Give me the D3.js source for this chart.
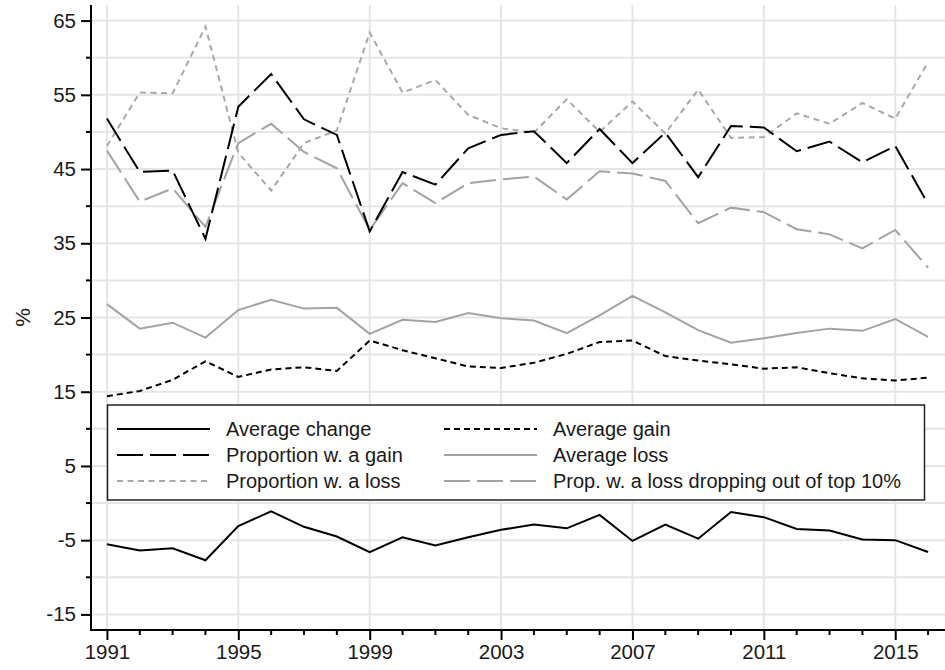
<!DOCTYPE html>
<html>
<head>
<meta charset="utf-8">
<script src="https://cdn.jsdelivr.net/npm/d3@7"></script>
<style>
  body { margin: 0; background: #fff; }
  svg { display: block; font-family: "Liberation Sans", Arial, sans-serif; }
</style>
</head>
<body>
<svg id="chart" width="945" height="670"></svg>
<script>
const years = d3.range(1991, 2017);
const xTickLabels = ["1991", "1995", "1999", "2003", "2007", "2011", "2015"];
const yTickLabels = ["-15", "-5", "5", "15", "25", "35", "45", "55", "65"];

const averageChange = [-5.55, -6.4, -6.1, -7.7, -3.1, -1.1, -3.2, -4.5, -6.6, -4.6, -5.7, -4.6, -3.6, -2.9, -3.4, -1.6, -5.1, -2.9, -4.8, -1.2, -1.9, -3.5, -3.7, -4.9, -5.0, -6.6];
const averageGain = [14.4, 15.1, 16.6, 19.1, 17.0, 18.0, 18.3, 17.8, 21.9, 20.6, 19.5, 18.4, 18.2, 18.9, 20.1, 21.7, 21.9, 19.8, 19.2, 18.7, 18.1, 18.3, 17.5, 16.8, 16.5, 16.9];
const propGain = [51.8, 44.6, 44.8, 35.6, 53.4, 57.8, 51.7, 49.6, 36.6, 44.6, 42.9, 47.8, 49.6, 50.1, 45.8, 50.4, 45.8, 49.9, 43.9, 50.8, 50.6, 47.4, 48.7, 45.9, 48.1, 40.3];
const averageLoss = [26.8, 23.5, 24.3, 22.3, 26.0, 27.4, 26.2, 26.3, 22.8, 24.7, 24.4, 25.6, 24.9, 24.6, 22.9, 25.3, 27.9, 25.7, 23.3, 21.6, 22.2, 22.9, 23.5, 23.2, 24.8, 22.4];
const propLoss = [48.1, 55.3, 55.2, 64.2, 47.2, 42.1, 48.5, 50.2, 63.4, 55.3, 57.0, 52.3, 50.5, 49.9, 54.4, 50.0, 54.1, 49.8, 55.7, 49.2, 49.3, 52.5, 51.1, 53.9, 51.8, 59.4];
const propLossTop10 = [47.5, 40.6, 42.4, 37.2, 48.5, 51.1, 47.3, 45.1, 36.8, 43.1, 40.4, 43.1, 43.6, 44.0, 40.9, 44.7, 44.4, 43.4, 37.7, 39.8, 39.2, 36.9, 36.2, 34.3, 36.8, 31.7];

const seriesNames = ["Average change", "Proportion w. a gain", "Proportion w. a loss", "Average gain", "Average loss", "Prop. w. a loss dropping out of top 10%"];
const seriesValues = [averageChange, propGain, propLoss, averageGain, averageLoss, propLossTop10];
const seriesColors = ["#000000", "#000000", "#a8a8a8", "#000000", "#a3a3a3", "#a3a3a3"];
const seriesDash = [null, "26,7", "6,4.5", "6,4", null, "26,7"];

const svg = d3.select("#chart");
const pLeft = 91, pRight = 945, pTop = 5, pBottom = 630;
const tickFont = 20.5, legendFont = 20;
const x = d3.scaleLinear().domain([1990.5, 2016.5]).range([90.5, 944.5]);
const y = d3.scaleLinear().domain([-17.1, 67.1]).range([pBottom, pTop]);

// gridlines
const gridColor = "#e6e6e6";
const hVals = d3.range(-15, 66, 5);
svg.append("g").selectAll("line").data(hVals).join("line")
  .attr("x1", pLeft).attr("x2", pRight)
  .attr("y1", d => y(d)).attr("y2", d => y(d))
  .attr("stroke", gridColor).attr("stroke-width", 2);
svg.append("g").selectAll("line").data(xTickLabels.map(Number)).join("line")
  .attr("x1", d => x(d)).attr("x2", d => x(d))
  .attr("y1", pTop).attr("y2", pBottom)
  .attr("stroke", gridColor).attr("stroke-width", 2);

// lines
const line = d3.line().x((d, i) => x(years[i])).y(d => y(d));
const drawOrder = [4, 3, 5, 2, 1, 0];
drawOrder.forEach(k => {
  svg.append("path").datum(seriesValues[k])
    .attr("d", line)
    .attr("fill", "none")
    .attr("stroke", seriesColors[k])
    .attr("stroke-width", 2)
    .attr("stroke-linejoin", "miter")
    .attr("stroke-dasharray", seriesDash[k]);
});

// axes
const yMajor = yTickLabels.map(Number);
const yMinor = d3.range(-10, 61, 10);
const yAxis = d3.axisLeft(y).tickValues(yMajor).tickSize(10).tickPadding(5).tickFormat(d => String(d));
const gy = svg.append("g").attr("transform", `translate(${pLeft},0)`).call(yAxis);
gy.attr("font-family", null).attr("font-size", null);
gy.select(".domain").remove();
gy.selectAll(".tick line").attr("stroke", "#000").attr("stroke-width", 2);
gy.selectAll(".tick text").style("font-size", tickFont + "px").attr("fill", "#1a1a1a");
svg.append("g").selectAll("line").data(yMinor).join("line")
  .attr("x1", pLeft - 5).attr("x2", pLeft)
  .attr("y1", d => y(d)).attr("y2", d => y(d))
  .attr("stroke", "#000").attr("stroke-width", 2);

const xAxis = d3.axisBottom(x).tickValues(xTickLabels.map(Number)).tickSize(10).tickPadding(4).tickFormat(d => String(d));
const gx = svg.append("g").attr("transform", `translate(0,${pBottom})`).call(xAxis);
gx.attr("font-family", null).attr("font-size", null);
gx.select(".domain").remove();
gx.selectAll(".tick line").attr("stroke", "#000").attr("stroke-width", 2);
gx.selectAll(".tick text").style("font-size", tickFont + "px").attr("fill", "#1a1a1a");
svg.append("g").selectAll("line").data(years.filter(yr => !xTickLabels.includes(String(yr)))).join("line")
  .attr("x1", d => x(d)).attr("x2", d => x(d))
  .attr("y1", pBottom).attr("y2", pBottom + 5)
  .attr("stroke", "#000").attr("stroke-width", 2);

svg.append("line").attr("x1", pLeft).attr("x2", pLeft).attr("y1", pTop).attr("y2", pBottom + 1)
  .attr("stroke", "#000").attr("stroke-width", 2);
svg.append("line").attr("x1", pLeft - 1).attr("x2", pRight).attr("y1", pBottom).attr("y2", pBottom)
  .attr("stroke", "#000").attr("stroke-width", 2);

svg.append("text").attr("transform", `translate(30,${(pTop + pBottom) / 2}) rotate(-90)`)
  .attr("text-anchor", "middle").style("font-size", "21px").attr("fill", "#1a1a1a").text("%");

// legend
const lg = svg.append("g");
lg.append("rect").attr("x", 107.5).attr("y", 405).attr("width", 817).attr("height", 95)
  .attr("fill", "#fff").attr("stroke", "#222").attr("stroke-width", 1.5);
const colX = [117, 444];
const rowY = [429, 455, 481];
seriesNames.forEach((name, i) => {
  const c = Math.floor(i / 3), r = i % 3;
  lg.append("line").attr("x1", colX[c]).attr("x2", colX[c] + 93)
    .attr("y1", rowY[r]).attr("y2", rowY[r])
    .attr("stroke", seriesColors[i]).attr("stroke-width", 2)
    .attr("stroke-dasharray", seriesDash[i]);
  lg.append("text").attr("x", colX[c] + 109).attr("y", rowY[r]).attr("dy", "0.33em")
    .style("font-size", legendFont + "px").attr("fill", "#1a1a1a").text(name);
});
</script>
</body>
</html>
